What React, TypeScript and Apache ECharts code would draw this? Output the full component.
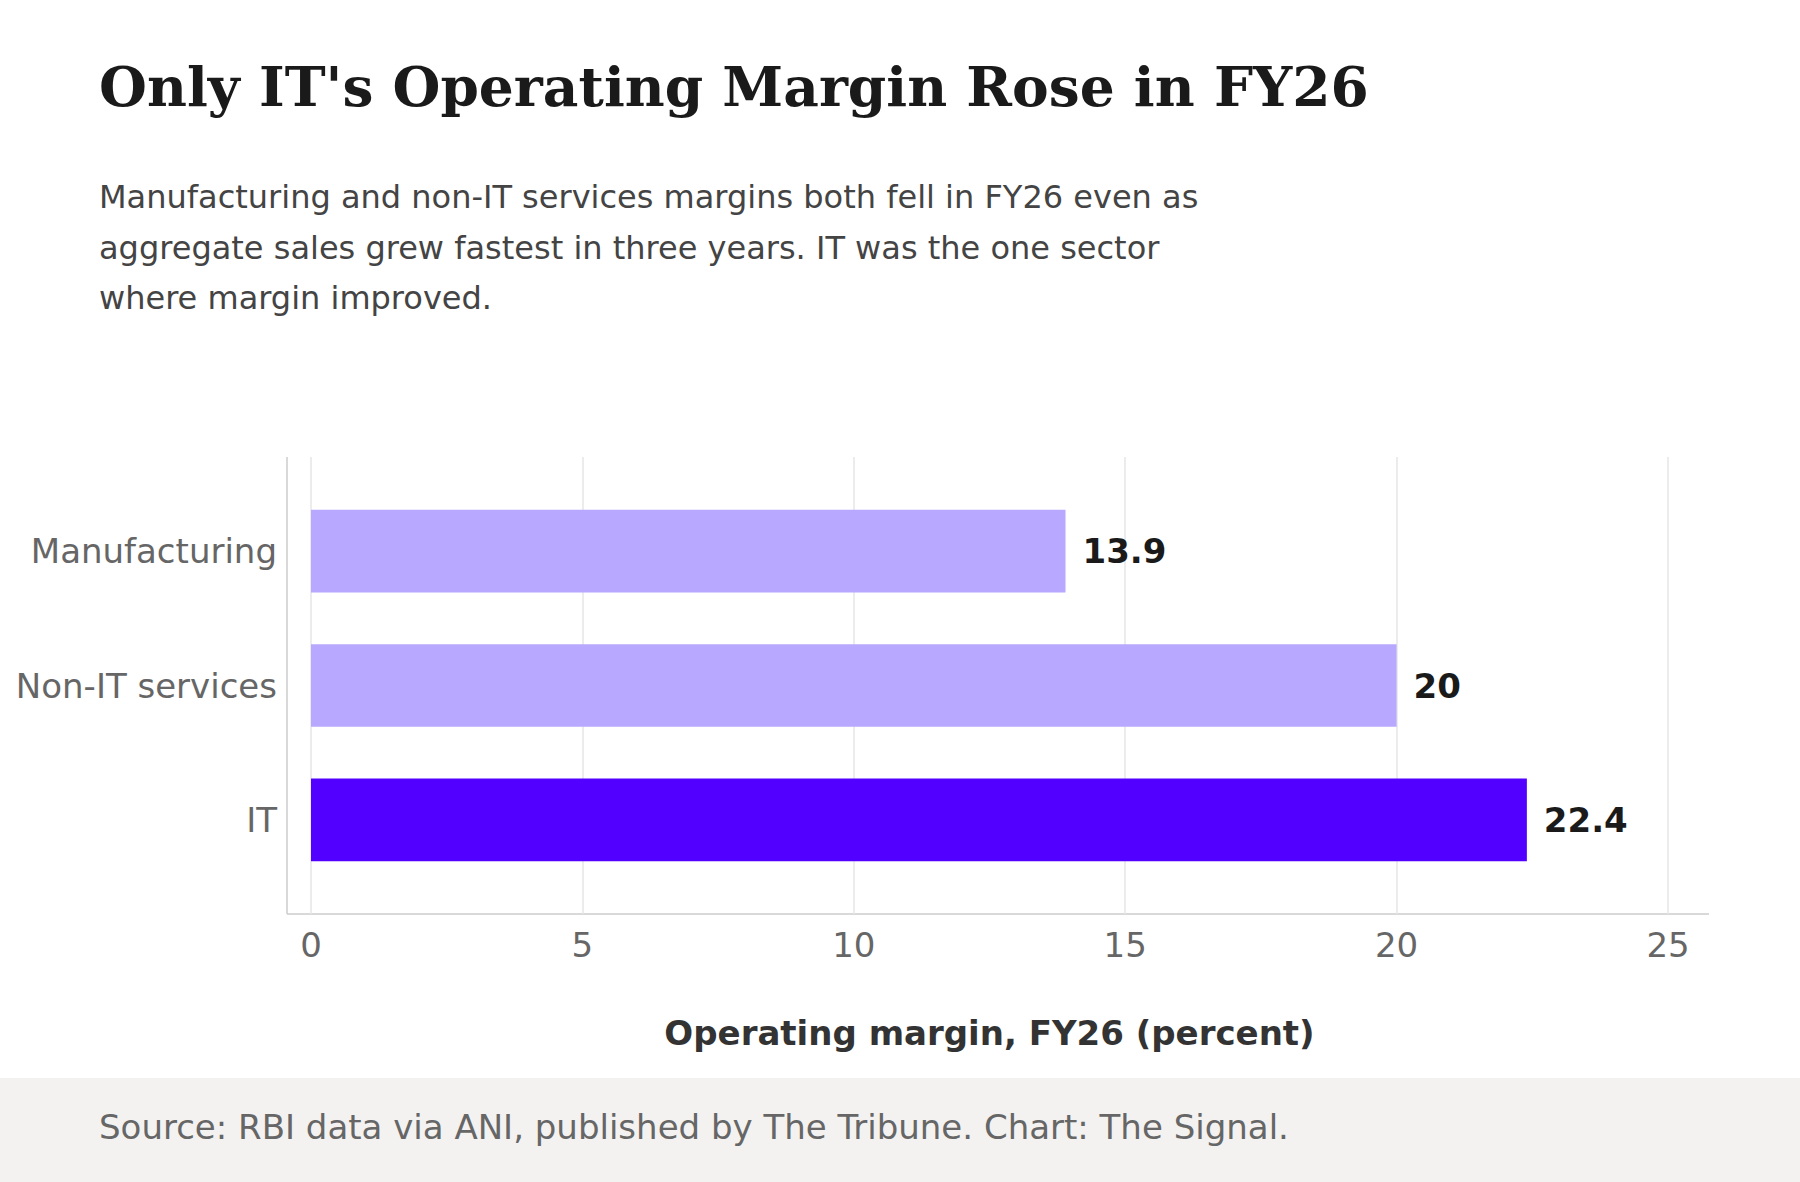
import React, { useEffect, useRef } from 'react';
import * as echarts from 'echarts';

const categories = ['IT', 'Non-IT services', 'Manufacturing'];
const values = [22.4, 20, 13.9];
const highlight = ['IT'];
const xTicks = [0, 5, 10, 15, 20, 25];

const title = "Only IT's Operating Margin Rose in FY26";
const subtitle = [
  'Manufacturing and non-IT services margins both fell in FY26 even as',
  'aggregate sales grew fastest in three years. IT was the one sector',
  'where margin improved.',
];
const source = 'Source: RBI data via ANI, published by The Tribune. Chart: The Signal.';

const SANS = '"DejaVu Sans", sans-serif';

const App: React.FC = () => {
  const ref = useRef<HTMLDivElement>(null);

  useEffect(() => {
    if (!ref.current) return;
    const chart = echarts.init(ref.current, null, { renderer: 'svg' });
    const left = 311;
    const right = 1800 - 1668;

    chart.setOption({
      animation: false,
      backgroundColor: '#ffffff',
      grid: [
        { left, right, top: 457, bottom: 1182 - 914 },
        { left, right, top: 484, bottom: 1182 - 887 },
      ],
      xAxis: [
        {
          gridIndex: 0, type: 'value', min: 0, max: 25, interval: 5,
          axisLine: { show: false }, axisTick: { show: false },
          axisLabel: { color: '#666', fontSize: 34, fontFamily: SANS, margin: 14 },
          splitLine: { lineStyle: { color: '#e6e6e6', width: 1.5 } },
          name: 'Operating margin, FY26 (percent)', nameLocation: 'middle', nameGap: 102,
          nameTextStyle: { color: '#333', fontSize: 34, fontWeight: 'bold', fontFamily: SANS },
        },
        {
          gridIndex: 1, type: 'value', min: 0, max: 25, interval: 5, show: false,
        },
      ],
      yAxis: [
        { gridIndex: 0, type: 'category', data: categories, show: false },
        {
          gridIndex: 1, type: 'category', data: categories,
          axisLine: { show: false }, axisTick: { show: false },
          axisLabel: { color: '#666', fontSize: 34, fontFamily: SANS, margin: 34 },
        },
      ],
      series: [
        {
          type: 'bar', xAxisIndex: 1, yAxisIndex: 1, barWidth: '61.5%',
          data: values.map((v, i) => ({
            value: v,
            itemStyle: { color: highlight.includes(categories[i]) ? '#5200ff' : '#b8a8ff' },
          })),
          label: {
            show: true, position: 'right', distance: 17, color: '#1a1a1a',
            fontSize: 34, fontWeight: 'bold', fontFamily: SANS,
          },
        },
      ],
      graphic: [
        { type: 'line', shape: { x1: 287, y1: 457, x2: 287, y2: 914 }, style: { stroke: '#cccccc', lineWidth: 1.5 } },
        { type: 'line', shape: { x1: 287, y1: 914, x2: 1709, y2: 914 }, style: { stroke: '#cccccc', lineWidth: 1.5 } },
        {
          type: 'text', x: 99, y: 86,
          style: { text: title, fill: '#1a1a1a', font: 'bold 55px "DejaVu Serif", serif', verticalAlign: 'middle' },
        },
        ...subtitle.map((t, i) => ({
          type: 'text', x: 99, y: 197 + i * 50.5,
          style: { text: t, fill: '#444', font: `32px ${SANS}`, verticalAlign: 'middle' },
        })),
        { type: 'rect', shape: { x: 0, y: 1078, width: 1800, height: 104 }, style: { fill: '#f3f2f1' } },
        {
          type: 'text', x: 99, y: 1127,
          style: { text: source, fill: '#666', font: `34px ${SANS}`, verticalAlign: 'middle' },
        },
      ],
    });
    return () => chart.dispose();
  }, []);

  return <div ref={ref} style={{ position: 'fixed', left: 0, top: 0, width: 1800, height: 1182 }} />;
};

export default App;
